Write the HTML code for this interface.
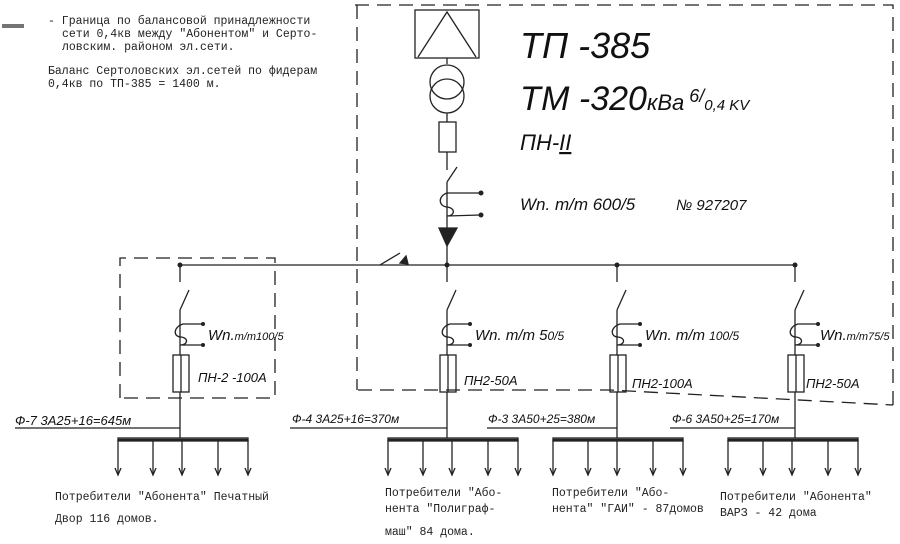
<!DOCTYPE html>
<html><head><meta charset="utf-8"><style>
html,body{margin:0;padding:0;background:#fff;}
svg{display:block}
.t{font-family:"Liberation Mono","DejaVu Sans Mono",monospace;font-size:11.5px;fill:#222}
.h{font-family:"Liberation Sans","DejaVu Sans",sans-serif;font-style:italic;fill:#111}
</style></head><body>
<svg width="900" height="544" viewBox="0 0 900 544" xmlns="http://www.w3.org/2000/svg">
<rect width="900" height="544" fill="#fff"/>
<g stroke="#222" stroke-width="1.3" fill="none">
<line x1="2" y1="25" x2="24" y2="25"/>
<line x1="2" y1="27" x2="24" y2="27"/>
<g stroke-dasharray="14,8">
<polyline points="355,5 893,5 893,405"/>
<line x1="357" y1="5" x2="357" y2="390"/>
<polyline points="358,390 610,390 893,405"/>
<polyline points="120,398 120,258 275,258 275,398 120,398"/>
</g>
<rect x="415" y="10" width="64" height="48"/>
<polyline points="418,57 447,12 476,57"/>
<line x1="447" y1="58" x2="447" y2="64"/>
<circle cx="447" cy="82" r="17"/>
<circle cx="447" cy="96" r="17"/>
<line x1="447" y1="113" x2="447" y2="122"/>
<rect x="439" y="122" width="17" height="30"/>
<line x1="447" y1="152" x2="447" y2="170"/>
<line x1="447" y1="182" x2="457" y2="167"/>
<line x1="447" y1="182" x2="447" y2="228"/>
<path d="M480,193 L447,193 C438,196 438,206 447,207 C456,208 455,216 447,216 L480,215"/>
<polygon points="439,228 457,228 447,246" fill="#222"/>
<line x1="447" y1="246" x2="447" y2="265"/>
<line x1="180" y1="265" x2="795" y2="265"/>
<line x1="380" y1="265" x2="400" y2="253"/>
<polygon points="400,263 406,256 408,264" fill="#222"/>
</g>
<g fill="#222">
<circle cx="481" cy="193" r="2.5"/><circle cx="481" cy="215" r="2.5"/>
<circle cx="180" cy="265" r="2.5"/><circle cx="447" cy="265" r="2.5"/><circle cx="617" cy="265" r="2.5"/><circle cx="795" cy="265" r="2.5"/>
</g>
<g stroke="#222" stroke-width="1.3" fill="none">
<g id="b1">
<line x1="180" y1="265" x2="180" y2="282"/>
<line x1="180" y1="310" x2="189" y2="290"/>
<line x1="180" y1="310" x2="180" y2="355"/>
<path d="M203,324 L183,324 C173,327 173,337 181,337 C189,338 188,345 180,345 L203,345"/>
<rect x="173" y="355" width="16" height="37"/><line x1="181" y1="355" x2="181" y2="392"/>
<line x1="180" y1="392" x2="180" y2="440"/>
</g>
<use href="#b1" x="267"/>
<use href="#b1" x="437"/>
<use href="#b1" x="615"/>
<line x1="15" y1="428" x2="180" y2="428"/>
<line x1="290" y1="428" x2="447" y2="428"/>
<line x1="487" y1="428" x2="617" y2="428"/>
<line x1="670" y1="428" x2="795" y2="428"/>
<g id="d1">
<rect x="118" y="438" width="130" height="3" fill="#888"/>
<line x1="118" y1="440" x2="248" y2="440" stroke-width="2"/>
<line x1="118" y1="440" x2="118" y2="475"/><polyline points="115,468 118,475 121,468"/>
<line x1="153" y1="440" x2="153" y2="475"/><polyline points="150,468 153,475 156,468"/>
<line x1="182" y1="440" x2="182" y2="475"/><polyline points="179,468 182,475 185,468"/>
<line x1="218" y1="440" x2="218" y2="475"/><polyline points="215,468 218,475 221,468"/>
<line x1="248" y1="440" x2="248" y2="475"/><polyline points="245,468 248,475 251,468"/>
</g>
<use href="#d1" x="270"/>
<use href="#d1" x="435"/>
<use href="#d1" x="610"/>
</g>
<g fill="#222">
<circle cx="203" cy="324" r="2"/><circle cx="203" cy="345" r="2"/>
<circle cx="470" cy="324" r="2"/><circle cx="470" cy="345" r="2"/>
<circle cx="640" cy="324" r="2"/><circle cx="640" cy="345" r="2"/>
<circle cx="818" cy="324" r="2"/><circle cx="818" cy="345" r="2"/>
</g>
<text class="t" x="48" y="24">- Граница по балансовой принадлежности</text>
<text class="t" x="62" y="37">сети 0,4кв между "Абонентом" и Серто-</text>
<text class="t" x="62" y="50">ловским. районом эл.сети.</text>
<text class="t" x="48" y="74">Баланс Сертоловских эл.сетей по фидерам</text>
<text class="t" x="48" y="87">0,4кв по ТП-385 = 1400 м.</text>
<text class="h" x="520" y="58" font-size="36">ТП -385</text>
<text class="h" x="520" y="110" font-size="34">ТМ -320<tspan font-size="22">кВа</tspan><tspan font-size="18" dy="-8"> 6/</tspan><tspan font-size="15" dy="8">0,4 KV</tspan></text>
<text class="h" x="520" y="150" font-size="22">ПН-<tspan text-decoration="underline">II</tspan></text>
<text class="h" x="520" y="210" font-size="17">Wn. т/т 600/5</text>
<text class="h" x="676" y="210" font-size="15">№ 927207</text>
<g class="h" font-size="15">
<text x="208" y="340">Wn.<tspan font-size="11">т/т100/5</tspan></text>
<text x="475" y="340">Wn. т/т 5<tspan font-size="12">0/5</tspan></text>
<text x="645" y="340">Wn. т/т <tspan font-size="12">100/5</tspan></text>
<text x="820" y="340">Wn.<tspan font-size="11">т/т75/5</tspan></text>
<text x="198" y="382" font-size="13">ПН-2 -100А</text>
<text x="464" y="385" font-size="13">ПН2-50А</text>
<text x="632" y="388" font-size="13">ПН2-100А</text>
<text x="806" y="388" font-size="13">ПН2-50А</text>
<text x="15" y="425" font-size="13">Ф-7 3А25+16=645м</text>
<text x="292" y="423" font-size="12">Ф-4 3А25+16=370м</text>
<text x="488" y="423" font-size="12">Ф-3 3А50+25=380м</text>
<text x="672" y="423" font-size="12">Ф-6 3А50+25=170м</text>
</g>
<g class="t" font-size="11">
<text x="55" y="500">Потребители "Абонента" Печатный</text>
<text x="55" y="522">Двор 116 домов.</text>
<text x="385" y="496">Потребители "Або-</text>
<text x="385" y="512">нента "Полиграф-</text>
<text x="385" y="535">маш" 84 дома.</text>
<text x="552" y="496">Потребители "Або-</text>
<text x="552" y="512">нента" "ГАИ" - 87домов</text>
<text x="720" y="500">Потребители "Абонента"</text>
<text x="720" y="516">ВАРЗ - 42 дома</text>
</g>
</svg>
</body></html>
